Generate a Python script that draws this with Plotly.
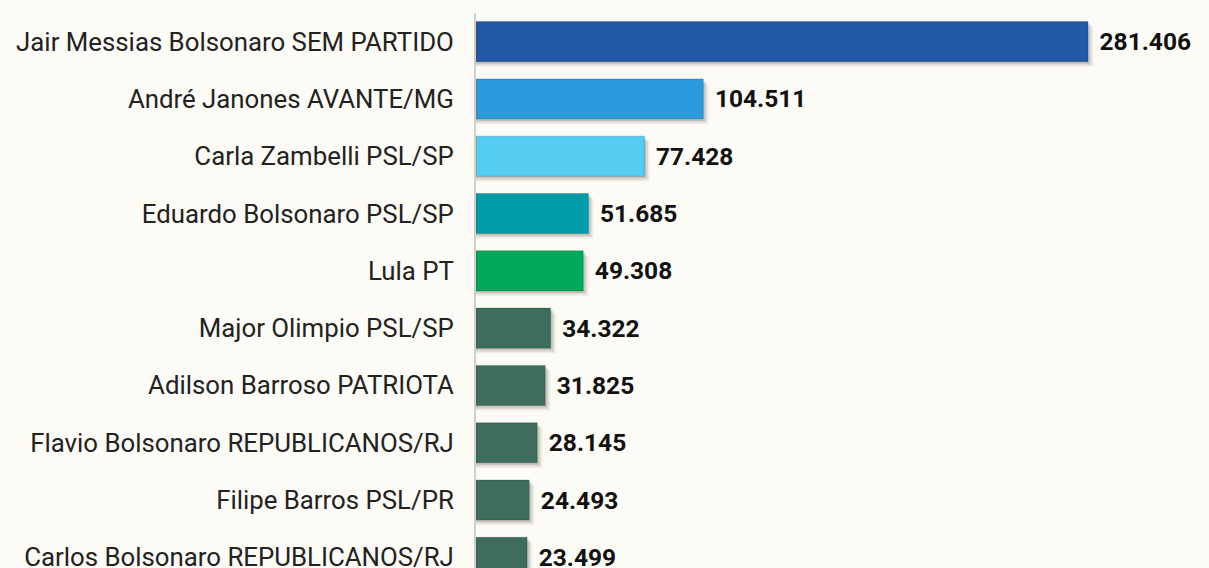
import plotly.graph_objects as go

names = [
    "Jair Messias Bolsonaro SEM PARTIDO",
    "André Janones AVANTE/MG",
    "Carla Zambelli PSL/SP",
    "Eduardo Bolsonaro PSL/SP",
    "Lula PT",
    "Major Olimpio PSL/SP",
    "Adilson Barroso PATRIOTA",
    "Flavio Bolsonaro REPUBLICANOS/RJ",
    "Filipe Barros PSL/PR",
    "Carlos Bolsonaro REPUBLICANOS/RJ",
]
values = [281.406, 104.511, 77.428, 51.685, 49.308, 34.322, 31.825, 28.145, 24.493, 23.499]
colors = ["#2258A5", "#2B9BDB", "#55CCF2", "#009CA7", "#00A859",
          "#3E6D5E", "#3E6D5E", "#3E6D5E", "#3E6D5E", "#3E6D5E"]

bg = "#FDFBF6"
labels = ["%.3f" % v for v in values]

fig = go.Figure()

# soft drop shadow: a few translucent layers nudged right/down
for dx, dy, a in [(2.4, 0.09, 0.07), (1.6, 0.06, 0.10), (0.9, 0.035, 0.13)]:
    fig.add_trace(go.Bar(
        x=[v + dx for v in values], y=names, orientation="h",
        width=0.70, offset=-0.35 + dy,
        marker=dict(color="rgba(60,50,40,%.2f)" % a, line=dict(width=0)),
        hoverinfo="skip", showlegend=False,
    ))

fig.add_trace(go.Bar(
    x=values, y=names, orientation="h",
    width=0.70, offset=-0.35,
    marker=dict(color=colors, line=dict(color="rgba(0,0,0,0.18)", width=1)),
    text=[" \u200a" + t for t in labels], textposition="outside", cliponaxis=False,
    textfont=dict(family="Roboto", size=24.5, color="#111111", weight="bold"),
    showlegend=False,
))

fig.update_layout(
    width=1209, height=600,
    margin=dict(l=476, r=11, t=13, b=14),
    paper_bgcolor=bg, plot_bgcolor=bg,
    barmode="overlay",
    font=dict(family="Roboto", size=25.8, color="#222222"),
    xaxis=dict(range=[0, 332], visible=False, showgrid=False, zeroline=False),
    yaxis=dict(autorange="reversed", showgrid=False, zeroline=False,
               showline=True, linecolor="#CFCFCF", linewidth=2,
               ticks="", ticklabelstandoff=15,
               tickfont=dict(family="Roboto", size=25.8, color="#222222")),
)

fig.write_html(
    "out.html",
    config={"displayModeBar": False},
    post_script="document.body.style.margin='0';document.body.style.overflow='hidden';"
                "document.body.style.background='%s';" % bg,
)
